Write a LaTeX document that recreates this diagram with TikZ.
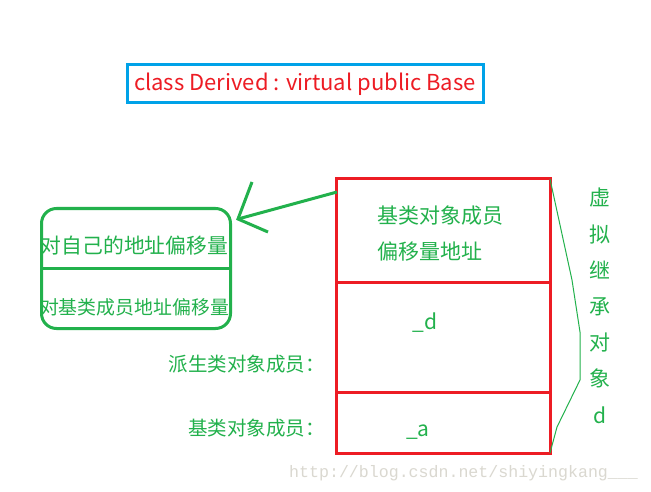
\documentclass[tikz,border=0pt]{standalone}
\usepackage{fontspec}
\setmainfont{Noto Sans CJK SC}
\newfontfamily\wmfont{Liberation Mono}
\definecolor{pgreen}{RGB}{34,177,76}
\definecolor{pred}{RGB}{237,28,36}
\definecolor{pblue}{RGB}{0,162,232}
\definecolor{wmgray}{RGB}{218,216,208}
\begin{document}
\begin{tikzpicture}[x=1pt,y=-1pt,
  cell/.style={draw=pred,line width=3pt,minimum width=214pt,inner sep=0pt,outer sep=0pt},
  gtext/.style={text=pgreen,inner sep=0pt,font=\fontsize{21}{24}\selectfont},
  gline/.style={draw=pgreen,line width=3pt}]
\useasboundingbox (0,0) rectangle (651,492);
\fill[white] (0,0) rectangle (651,492);

% title box
\node[draw=pblue,line width=3pt,minimum width=356pt,minimum height=38pt,inner sep=0pt,
  text=pred,font=\fontsize{22}{26}\selectfont] (title) at (305,84) {class Derived : virtual public Base};

% red memory layout
\node[cell,minimum height=103pt,anchor=north west] (rtop) at (336,179) {};
\node[cell,minimum height=110pt,anchor=north west] (rmid) at (336,282) {};
\node[cell,minimum height=61pt,anchor=north west] (rbot) at (336,392) {};

\node[gtext,anchor=west] (t1) at (377,216) {基类对象成员};
\node[gtext,anchor=west] (t2) at (377,252) {偏移量地址};
\node[gtext] (td) at (425,323) {\_d};
\node[gtext] (ta) at (418,432) {\_a};

\node[gtext,anchor=east,font=\fontsize{19.5}{24}\selectfont] (lder) at (325,364) {派生类对象成员：};
\node[gtext,anchor=east,font=\fontsize{19.5}{24}\selectfont] (lbase) at (325,428) {基类对象成员：};

% left rounded box
\node[draw=pgreen,line width=3pt,rounded corners=15pt,minimum width=189pt,minimum height=120pt,
  inner sep=0pt,anchor=north west] (lbox) at (40,207) {};
\draw[gline] (lbox.west |- 0,268) -- (lbox.east |- 0,268);
\node[gtext,font=\fontsize{20.8}{24}\selectfont] (l1) at (134.5,246) {对自己的地址偏移量};
\node[gtext,font=\fontsize{18.9}{24}\selectfont] (l2) at (134.5,307) {对基类成员地址偏移量};

% arrow
\coordinate (astart) at (337,192);
\coordinate (atip) at (238,219);
\coordinate (barb1) at (252,182);
\coordinate (barb2) at (268,232);
\draw[gline] (astart) -- (atip);
\draw[gline] (barb1) -- (atip) -- (barb2);

% brace
\draw[draw=pgreen,line width=1pt] (rtop.north east) -- (572,280) -- (580,332) -- (580,380) -- (557,427) -- (rbot.south east);

% vertical label
\foreach \c/\yy [count=\i] in {虚/198,拟/235,继/270,承/307,对/343,象/378,d/415}{
  \node[gtext] (v\i) at (600,\yy) {\c};
}

% watermark
\node[text=wmgray,inner sep=0pt,anchor=west,font=\wmfont\fontsize{16.6}{20}\selectfont] (wm) at (289,473) {http://blog.csdn.net/shiyingkang\_\_\_};
\end{tikzpicture}
\end{document}
